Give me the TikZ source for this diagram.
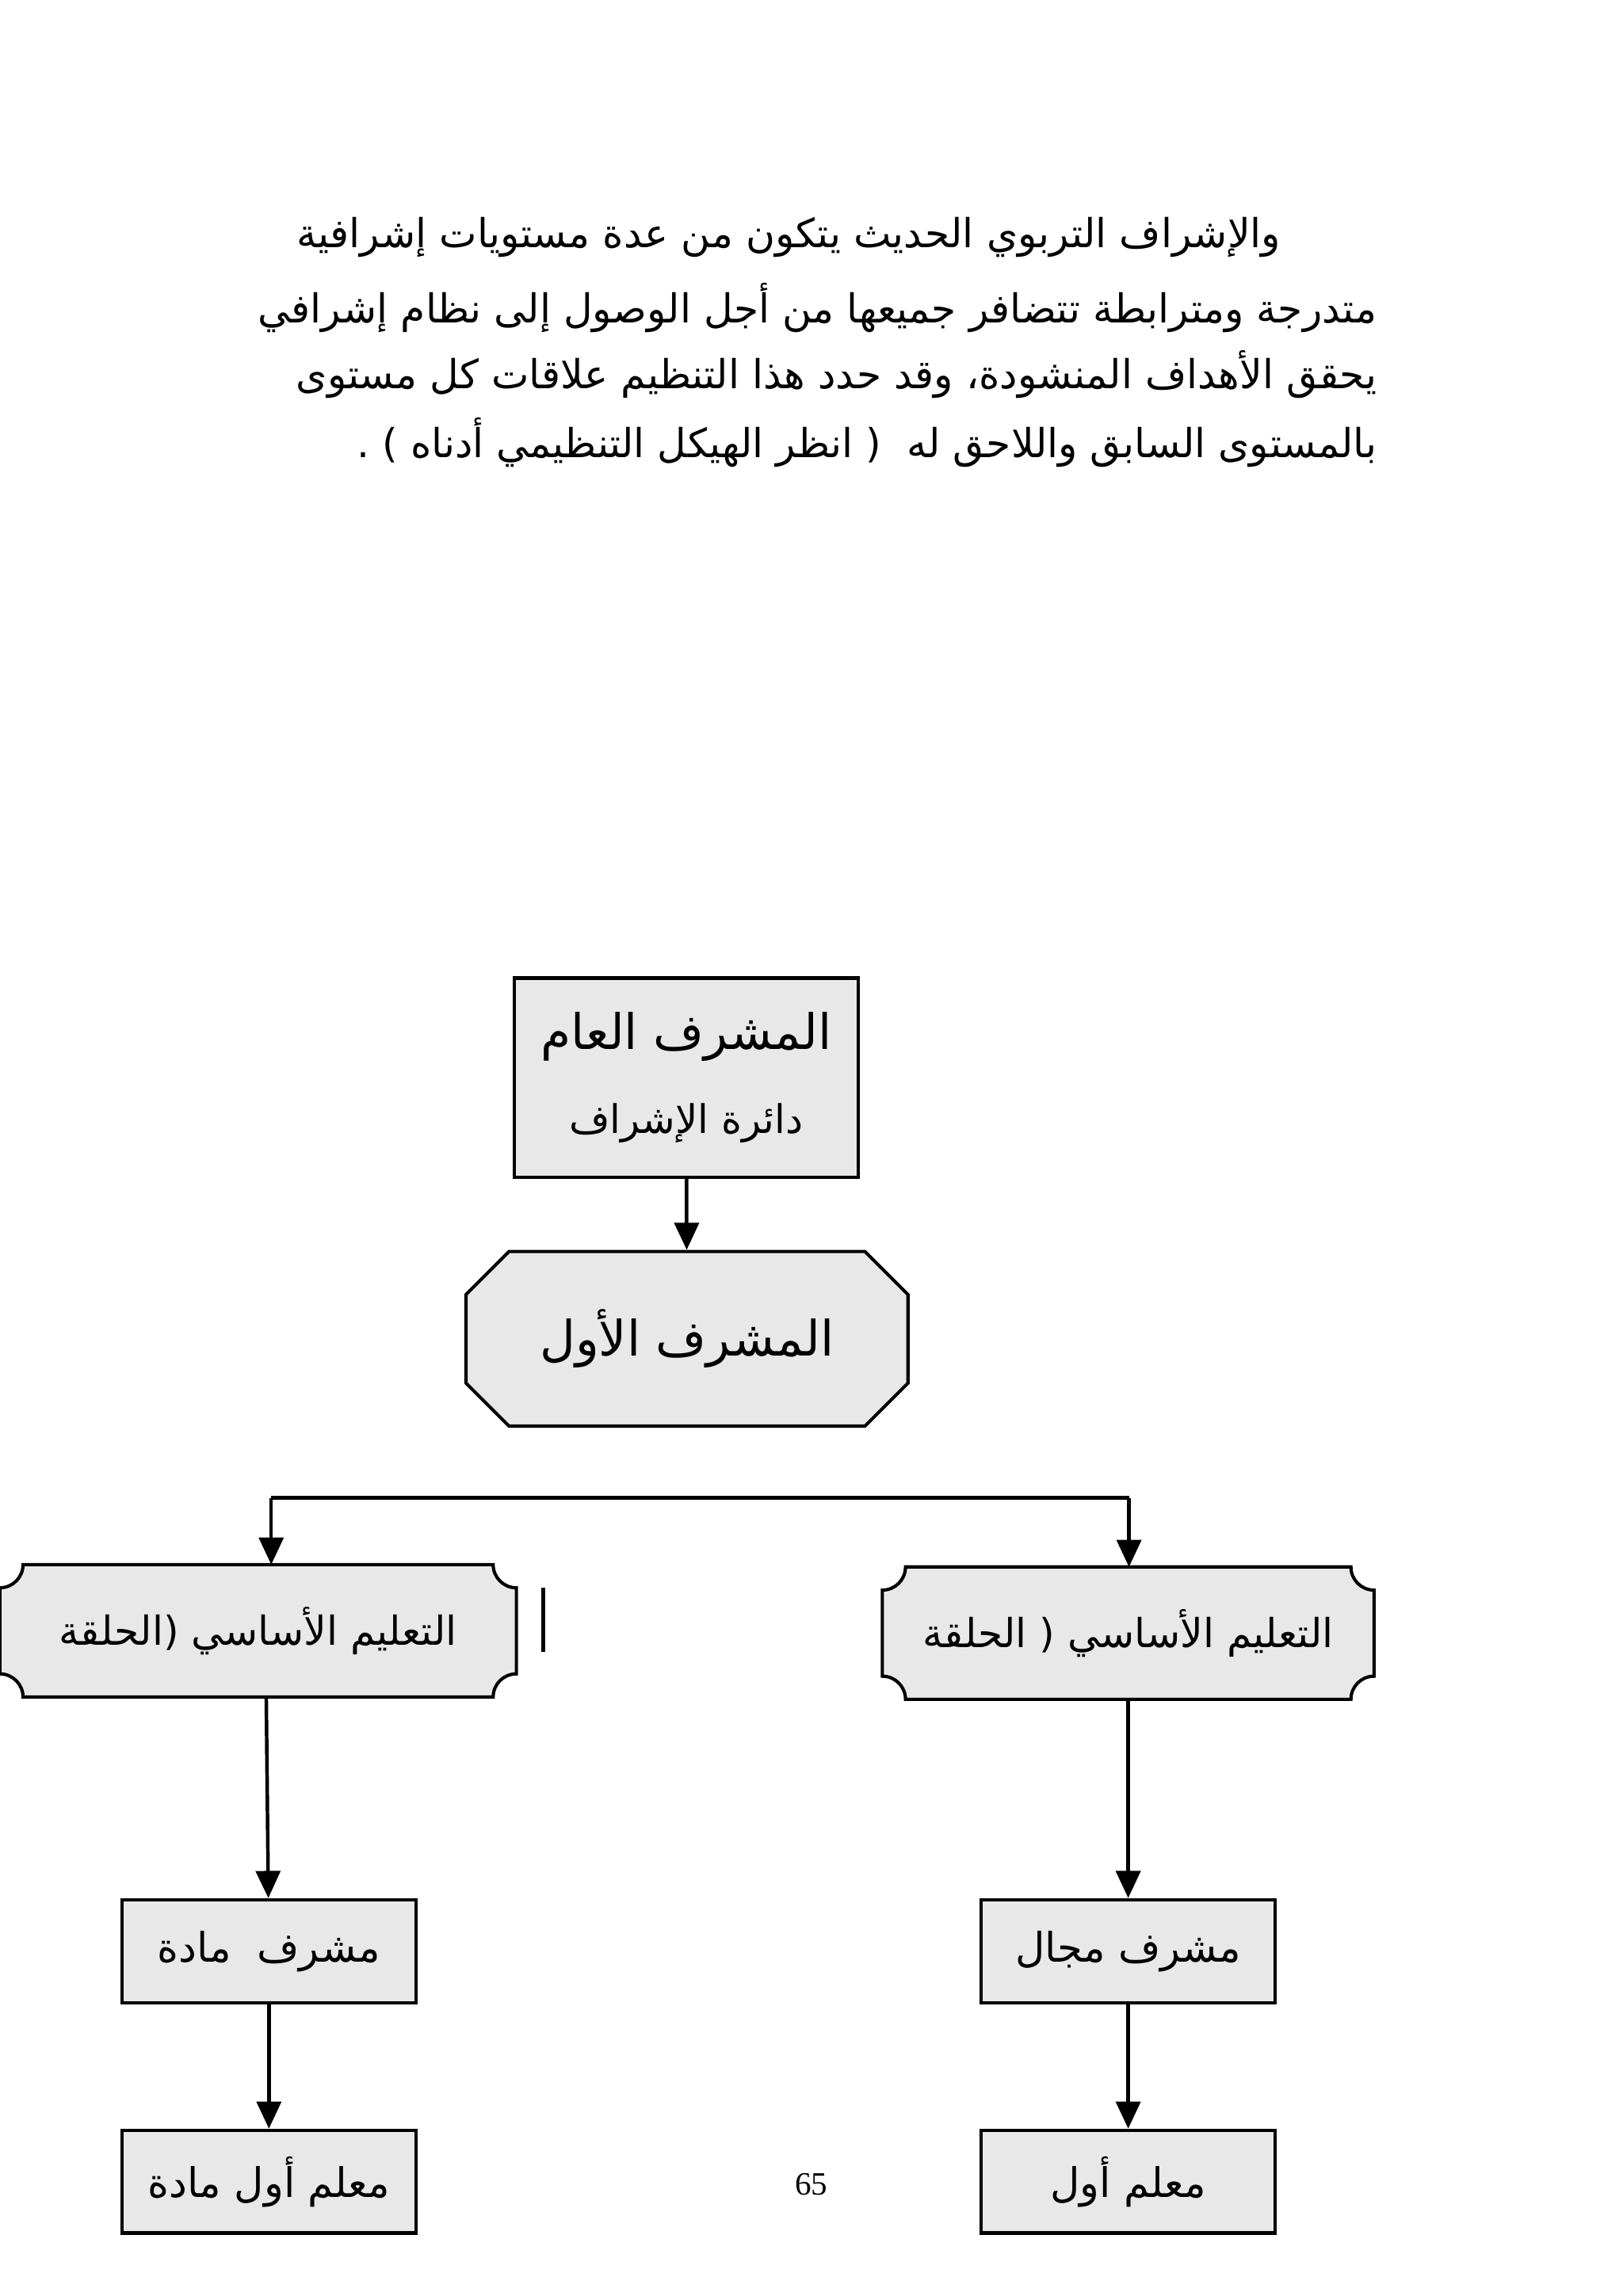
\documentclass[tikz,border=0pt]{standalone}
\usepackage{fontspec}
\setmainfont{Liberation Serif}
\newfontfamily\arabicfont[Script=Arabic]{DejaVu Sans}
\TeXXeTstate=1
\usepackage{tikz}
\usetikzlibrary{shapes.misc,arrows.meta,positioning,calc,backgrounds}
\definecolor{boxgray}{HTML}{E8E8E8}

\begin{document}
\begin{tikzpicture}[
  plain/.style={draw, fill=boxgray, line width=1.2pt, minimum width=3.81cm,
                minimum height=1.34cm, align=center, inner sep=2pt,
                font=\arabicfont\fontsize{15}{19}\selectfont},
  chief/.style={plain, minimum width=4.45cm, minimum height=2.58cm},
  octa/.style={plain, chamfered rectangle, chamfered rectangle xsep=0.53cm,
               minimum width=5.72cm, minimum height=2.26cm,
               font=\arabicfont\fontsize{18}{22}\selectfont},
  ring/.style={minimum height=1.7cm, font=\arabicfont\fontsize{14.7}{18}\selectfont},
  frame/.style={draw, fill=boxgray, line width=1.2pt},
  arr/.style={-{Triangle[length=10pt,width=9pt]}, line width=1.3pt},
  para/.style={anchor=east, inner sep=0pt, font=\arabicfont\fontsize{14.7}{18}\selectfont}
]
\useasboundingbox (0,0) rectangle (21,29.72);

% ===== Paragraph =====
\node[para] (p1) at (16.58,26.65) {\beginR والإشراف التربوي الحديث يتكون من عدة مستويات إشرافية\endR};
\node[para] (p2) at (17.82,25.74) {\beginR متدرجة ومترابطة تتضافر جميعها من أجل الوصول إلى نظام إشرافي\endR};
\node[para] (p3) at (17.82,24.87) {\beginR يحقق الأهداف المنشودة، وقد حدد هذا التنظيم علاقات كل مستوى\endR};
\node[para] (p4) at (17.82,23.99) {\beginR بالمستوى السابق واللاحق له~ ( انظر الهيكل التنظيمي أدناه ) .\endR};

% ===== Top levels =====
\node[chief] (gen) at (8.88,15.77)
  {{\fontsize{18}{22}\selectfont\beginR المشرف العام\endR}\\[12pt]
   {\fontsize{14.5}{18}\selectfont\beginR دائرة الإشراف\endR}};
\node[octa] (first) at (8.89,12.39) {\beginR المشرف الأول\endR};

% ===== Cycles =====
\node[ring, minimum width=6.67cm] (ring1) at (3.34,8.61) {\beginR التعليم الأساسي (الحلقة\endR};
\node[ring, minimum width=6.35cm] (ring2) at (14.60,8.58) {\beginR التعليم الأساسي ( الحلقة\endR};
\begin{scope}[on background layer]
  \foreach \n in {ring1,ring2}
    \draw[frame] ([xshift=0.3cm]\n.north west) -- ([xshift=-0.3cm]\n.north east)
      arc[start angle=180, end angle=270, radius=0.3cm]
      -- ([yshift=0.3cm]\n.south east)
      arc[start angle=90, end angle=180, radius=0.3cm]
      -- ([xshift=0.3cm]\n.south west)
      arc[start angle=0, end angle=90, radius=0.3cm]
      -- ([yshift=-0.3cm]\n.north west)
      arc[start angle=270, end angle=360, radius=0.3cm] -- cycle;
\end{scope}
\draw[line width=1.2pt] (7.03,9.17) -- (7.03,8.34);

% ===== Lower levels =====
\node[plain] (sub1) at (3.48,4.46) {\beginR مشرف~ مادة\endR};
\node[plain] (sub2) at (14.60,4.46) {\beginR مشرف مجال\endR};
\node[plain, minimum height=1.33cm] (lead1) at (3.48,1.48) {\beginR معلم أول مادة\endR};
\node[plain, minimum height=1.33cm] (lead2) at (14.60,1.48) {\beginR معلم أول\endR};

\node[font=\fontsize{12}{14}\selectfont] (page) at (10.50,1.44) {65};

% ===== Arrows =====
\coordinate (hl) at (3.51,10.33);
\coordinate (hr) at (14.61,10.33);
\draw[arr] (gen) -- (first);
\draw[line width=1.3pt] (hl) -- (hr);
\draw[arr] (hl) -- (hl |- ring1.north);
\draw[arr] (hr) -- (hr |- ring2.north);
\draw[arr] ([xshift=3pt]ring1.south) -- (sub1);
\draw[arr] (ring2) -- (sub2);
\draw[arr] (sub1) -- (lead1);
\draw[arr] (sub2) -- (lead2);

\end{tikzpicture}
\end{document}
